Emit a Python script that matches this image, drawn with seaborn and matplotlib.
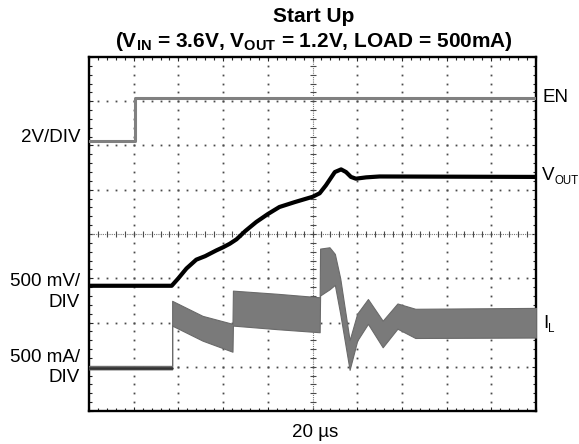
import numpy as np
import matplotlib
matplotlib.use("Agg")
import matplotlib.pyplot as plt
import seaborn as sns

# ================================================================
# Data (scope divisions: x 0..10, y 0..8 from bottom)
# ================================================================
en_x = [0.0, 1.03, 1.03, 10.0]
en_y = [6.11, 6.11, 7.07, 7.07]

vout_x = [0.0, 1.85, 2.0, 2.18, 2.4, 2.6, 2.85, 3.0, 3.15, 3.3, 3.5, 3.74, 4.0, 4.26, 4.6, 5.0, 5.16,
          5.3, 5.5, 5.64, 5.75, 5.86, 5.97, 6.2, 6.5, 10.0]
vout_y = [2.83, 2.83, 3.0, 3.22, 3.42, 3.5, 3.63, 3.70, 3.78, 3.88, 4.07, 4.27, 4.45, 4.61, 4.72, 4.84, 4.92,
          5.1, 5.4, 5.46, 5.4, 5.29, 5.25, 5.28, 5.30, 5.29]

# inductor current drawn as a ripple band (upper / lower envelope)
il_x = [0.0, 1.86, 1.86, 2.54, 3.21, 3.22, 4.2, 5.16, 5.17, 5.38, 5.5, 5.62, 5.83, 6.0, 6.24, 6.57, 6.9, 7.3, 10.0]
il_upper = [1.02, 1.02, 2.49, 2.15, 1.97, 2.72, 2.65, 2.57, 3.67, 3.70, 3.55, 3.0, 1.6, 2.2, 2.53, 2.04, 2.43, 2.31, 2.33]
il_lower = [0.94, 0.94, 1.93, 1.59, 1.34, 1.93, 1.85, 1.78, 2.61, 2.75, 2.85, 2.2, 0.93, 1.59, 1.97, 1.44, 1.86, 1.65, 1.66]

W, H = 579, 444


def fx(px):
    return px / W


def fy(py):
    return 1 - py / H


# ================================================================
# Plot
# ================================================================
sns.set_style("white")
plt.rcParams['font.family'] = ['Liberation Sans', 'DejaVu Sans']
plt.rcParams['text.color'] = 'black'
plt.rcParams['mathtext.fontset'] = 'custom'
plt.rcParams['mathtext.rm'] = 'Liberation Sans'
plt.rcParams['mathtext.bf'] = 'Liberation Sans:bold'

fig = plt.figure(figsize=(5.79, 4.44), dpi=100)
ax = fig.add_axes([fx(89), fy(411), fx(536) - fx(89), fy(57) - fy(411)])

# graticule dots on each major division
dots_x = np.arange(0, 10.01, 0.2)
dots_y = np.arange(0, 8.01, 0.2)
for gx in range(1, 10):
    if gx == 5:
        continue
    ax.plot(np.full(len(dots_y), gx), dots_y, ls='none', marker='s',
            ms=1.3, mew=0, color='#4a4a4a', zorder=1)
for gy in range(1, 8):
    if gy == 4:
        continue
    ax.plot(dots_x, np.full(len(dots_x), gy), ls='none', marker='s',
            ms=1.3, mew=0, color='#4a4a4a', zorder=1)

# center cross with small ticks
ax.axvline(5, color='#777777', lw=0.8, ls=(0, (1, 1)), zorder=1)
ax.axhline(4, color='#777777', lw=0.8, ls=(0, (1, 1)), zorder=1)
ax.plot(dots_x, np.full(len(dots_x), 4), ls='none', marker='|', ms=4, mew=0.8, color='#4a4a4a', zorder=1)
ax.plot(np.full(len(dots_y), 5), dots_y, ls='none', marker='_', ms=4, mew=0.8, color='#4a4a4a', zorder=1)

# traces
ax.fill_between(il_x, il_lower, il_upper, color='#7a7a7a', lw=0.8, edgecolor='#6a6a6a', zorder=3)
# pre-start inductor current baseline is a thin dark trace
ax.plot(il_x[:2], [(u + l) / 2 for u, l in zip(il_upper[:2], il_lower[:2])],
        color='#333333', lw=1.8, zorder=3)
sns.lineplot(x=en_x, y=en_y, estimator=None, sort=False, color='#808080', lw=2.2, ax=ax, zorder=3)
sns.lineplot(x=vout_x, y=vout_y, estimator=None, sort=False, color='black', lw=3.0, ax=ax, zorder=4)

# Formatting
ax.set_xlim(0, 10)
ax.set_ylim(0, 8)
ax.set_xticks(np.arange(0, 11, 1))
ax.set_yticks(np.arange(0, 9, 1))
ax.set_xticks(dots_x, minor=True)
ax.set_yticks(dots_y, minor=True)
ax.tick_params(which='both', direction='in', top=True, right=True, bottom=True, left=True,
               labelbottom=False, labelleft=False, color='#222222', width=0.8)
ax.tick_params(which='major', length=3)
ax.tick_params(which='minor', length=2.5)
ax.set_xlabel("")
ax.set_ylabel("")
for s in ax.spines.values():
    s.set_linewidth(1.7)
    s.set_color('black')
    s.set_visible(True)

# texts
fig.text(fx(314), fy(22), 'Start Up', ha='center', va='baseline', fontsize=15, fontweight='bold')
fig.text(fx(314), fy(47),
         r'(V$_{\mathbf{IN}}$ = 3.6V, V$_{\mathbf{OUT}}$ = 1.2V, LOAD = 500mA)',
         ha='center', va='baseline', fontsize=15, fontweight='bold')

fs = 13.5
fig.text(fx(80), fy(137), '2V/DIV', ha='right', va='center', fontsize=fs)
fig.text(fx(80), fy(282), '500 mV/', ha='right', va='center', fontsize=fs)
fig.text(fx(80), fy(302), 'DIV', ha='right', va='center', fontsize=fs)
fig.text(fx(80), fy(357), '500 mA/', ha='right', va='center', fontsize=fs)
fig.text(fx(80), fy(377), 'DIV', ha='right', va='center', fontsize=fs)

fig.text(fx(543), fy(97), 'EN', ha='left', va='center', fontsize=fs)
fig.text(fx(542), fy(176), 'V', ha='left', va='center', fontsize=fs)
fig.text(fx(554.5), fy(181), 'OUT', ha='left', va='center', fontsize=8.3)
fig.text(fx(543), fy(324), 'I', ha='left', va='center', fontsize=fs)
fig.text(fx(548), fy(329), 'L', ha='left', va='center', fontsize=8.3)

fig.text(fx(315), fy(432), '20 µs', ha='center', va='center', fontsize=fs)

plt.savefig('out.png', dpi=100)
